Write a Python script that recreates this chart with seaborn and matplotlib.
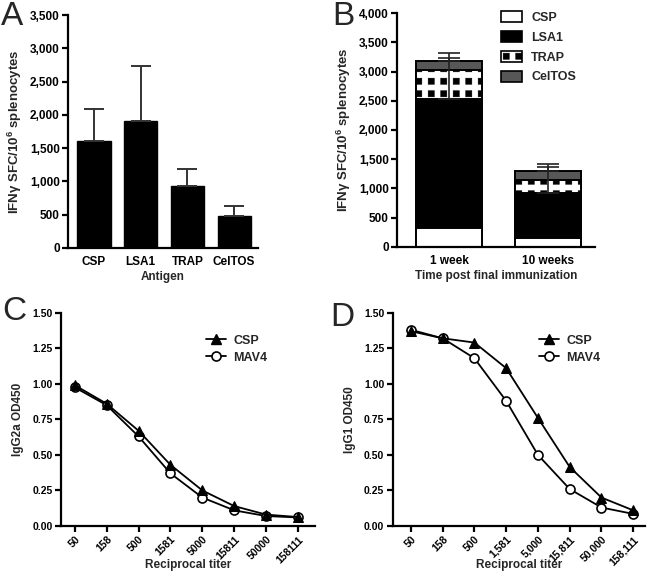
import numpy as np
import pandas as pd
import matplotlib
matplotlib.use("Agg")
import matplotlib.pyplot as plt
import seaborn as sns
from matplotlib import hatch as mhatch
from matplotlib.path import Path
from matplotlib.patches import Patch
from matplotlib.lines import Line2D

# ---------------- data ----------------
antigens = ["CSP", "LSA1", "TRAP", "CelTOS"]
a_mean = [1610, 1910, 935, 485]
a_err = [475, 820, 245, 150]

timepoints = ["1 week", "10 weeks"]
b_csp = [326, 155]
b_lsa1 = [2205, 765]
b_trap = [498, 220]
b_celtos = [160, 160]
b_err_lsa1 = [709, 451]
b_err_celtos = [126, 117]

titers_c = ["50", "158", "500", "1581", "5000", "15811", "50000", "158111"]
titers_d = ["50", "158", "500", "1,581", "5,000", "15,811", "50,000", "158,111"]
c_csp = [0.99, 0.86, 0.67, 0.43, 0.25, 0.14, 0.08, 0.063]
c_mav4 = [0.975, 0.85, 0.63, 0.37, 0.20, 0.11, 0.07, 0.06]
d_csp = [1.37, 1.32, 1.29, 1.11, 0.76, 0.415, 0.20, 0.11]
d_mav4 = [1.38, 1.32, 1.18, 0.88, 0.50, 0.26, 0.13, 0.085]


# ---------------- square-dot hatch (GraphPad style) ----------------
class SquareDots(mhatch.HatchPatternBase):
    size = 0.5

    def __init__(self, hatch, density):
        self.num_rows = int(round(hatch.count(".") * density * 4 / 3))
        self.num_vertices = self.num_rows ** 2 * 5

    def set_vertices_and_codes(self, vertices, codes):
        n = self.num_rows
        s = self.size / n / 2
        sq = np.array([[-s, -s], [s, -s], [s, s], [-s, s], [-s, -s]])
        sc = [Path.MOVETO, Path.LINETO, Path.LINETO, Path.LINETO, Path.CLOSEPOLY]
        k = 0
        for i in range(n):
            for j in range(n):
                c = np.array([(i + 0.5) / n, (j + 0.5) / n])
                vertices[k:k + 5] = sq + c
                codes[k:k + 5] = sc
                k += 5


mhatch._hatch_types = [SquareDots if t is mhatch.SmallFilledCircles else t
                       for t in mhatch._hatch_types]

# ---------------- style ----------------
sns.set_theme(style="ticks")
plt.rcParams["font.family"] = ["Liberation Sans", "DejaVu Sans"]
plt.rcParams["font.weight"] = "bold"
plt.rcParams["mathtext.fontset"] = "custom"
plt.rcParams["mathtext.rm"] = "Liberation Sans:bold"
plt.rcParams["mathtext.bf"] = "Liberation Sans:bold"
plt.rcParams["mathtext.it"] = "Liberation Sans:bold"
plt.rcParams["hatch.linewidth"] = 0.3
plt.rcParams["hatch.color"] = "black"
plt.rcParams["axes.linewidth"] = 1.6
plt.rcParams["xtick.major.width"] = 1.6
plt.rcParams["ytick.major.width"] = 1.6
plt.rcParams["xtick.major.size"] = 4
plt.rcParams["ytick.major.size"] = 4
plt.rcParams["xtick.color"] = "black"
plt.rcParams["ytick.color"] = "black"
plt.rcParams["axes.edgecolor"] = "black"

W, H = 650, 578
fig = plt.figure(figsize=(W / 100, H / 100), dpi=100)


def px_axes(left, right, top, bottom):
    return fig.add_axes([left / W, 1 - bottom / H, (right - left) / W, (bottom - top) / H])


def thousands(v, pos=None):
    return f"{int(v):,}"


ylab_ifn = r"IFN$\gamma$ SFC/10$^{6}$ splenocytes"

# ---------------- Panel A ----------------
axA = px_axes(68, 258, 15, 248)
sns.barplot(x=antigens, y=a_mean, color="black", saturation=1, width=0.71,
            edgecolor="black", linewidth=1, ax=axA)
xa = np.arange(len(antigens))
axA.errorbar(xa, a_mean, yerr=[np.zeros(len(a_err)), a_err], fmt="none",
             ecolor="#333333", elinewidth=1.4, capsize=7, capthick=1.4, zorder=1)
axA.set_ylim(0, 3500)
axA.set_yticks(np.arange(0, 3501, 500))
axA.yaxis.set_major_formatter(matplotlib.ticker.FuncFormatter(thousands))
axA.set_xlim(-0.557, 3.51)
axA.tick_params(axis="x", length=0, labelsize=8.5, pad=6)
axA.tick_params(axis="y", labelsize=8.5, pad=2)
axA.set_xlabel("Antigen", fontsize=8.5, fontweight="bold", labelpad=2)
axA.set_ylabel(ylab_ifn, fontsize=9.5, fontweight="bold", labelpad=4)
sns.despine(ax=axA)

# ---------------- Panel B ----------------
axB = px_axes(397, 595, 13.3, 246.7)
segs = [b_csp, b_lsa1, b_trap, b_celtos]
cum = np.cumsum(np.array(segs, dtype=float), axis=0)
names = ["CSP", "LSA1", "TRAP", "CelTOS"]
colors = ["white", "black", "white", "#575757"]
hatched = [False, False, True, False]
for k in reversed(range(4)):
    kw = {"hatch": "."} if hatched[k] else {}
    sns.barplot(x=timepoints, y=cum[k], color=colors[k], saturation=1, width=0.67,
                edgecolor="black", linewidth=1.4, ax=axB, **kw)
xb = np.arange(len(timepoints))
for top, err in [(cum[1], b_err_lsa1), (cum[3], b_err_celtos)]:
    axB.errorbar(xb, top, yerr=[np.zeros(2), err], fmt="none", ecolor="#222222",
                 elinewidth=1.2, capsize=8, capthick=1.2, zorder=5)
axB.set_ylim(0, 4000)
axB.set_yticks(np.arange(0, 4001, 500))
axB.yaxis.set_major_formatter(matplotlib.ticker.FuncFormatter(thousands))
axB.set_xlim(-0.525, 1.475)
axB.tick_params(axis="x", length=0, labelsize=8.5, pad=6)
axB.tick_params(axis="y", labelsize=8.5, pad=2)
axB.set_xlabel("Time post final immunization", fontsize=8.5, fontweight="bold", labelpad=2)
axB.set_ylabel(ylab_ifn, fontsize=9.5, fontweight="bold", labelpad=4)
sns.despine(ax=axB)
handlesB = []
for k in range(4):
    handlesB.append(Patch(facecolor=colors[k], edgecolor="black", linewidth=1.2,
                          hatch="." if hatched[k] else None, label=names[k]))
axB.legend(handles=handlesB, loc="upper left", bbox_to_anchor=(0.5, 1.03), frameon=False,
           fontsize=9, handlelength=1.7, handleheight=1.0, labelspacing=0.55,
           handletextpad=0.7, borderaxespad=0)


# ---------------- Panels C & D ----------------
def titer_panel(ax, labels, csp, mav4, ylabel, xlim, legend_anchor):
    x = np.arange(len(labels))
    df = pd.DataFrame({"pos": x, "CSP": csp, "MAV4": mav4})
    sns.lineplot(data=df, x="pos", y="MAV4", ax=ax, color="black", linewidth=1.3,
                 marker="o", markersize=6.5, markerfacecolor="white",
                 markeredgecolor="black", markeredgewidth=1.2, zorder=3)
    sns.lineplot(data=df, x="pos", y="CSP", ax=ax, color="black", linewidth=1.3,
                 marker="^", markersize=6.5, markerfacecolor="black",
                 markeredgecolor="black", zorder=4)
    ax.set_xticks(x)
    ax.set_xticklabels(labels, rotation=45, ha="right", rotation_mode="anchor")
    ax.set_xlim(*xlim)
    ax.set_ylim(0, 1.5)
    ax.set_yticks(np.arange(0, 1.51, 0.25))
    ax.yaxis.set_major_formatter(matplotlib.ticker.FormatStrFormatter("%.2f"))
    ax.tick_params(axis="both", labelsize=7.5, pad=2)
    ax.set_xlabel("Reciprocal titer", fontsize=8.5, fontweight="bold")
    ax.xaxis.set_label_coords(0.5, -0.155)
    ax.set_ylabel(ylabel, fontsize=8.5, fontweight="bold", labelpad=6)
    sns.despine(ax=ax)
    h = [Line2D([], [], color="black", lw=1.3, marker="^", markersize=6.5,
                markerfacecolor="black", label="CSP"),
         Line2D([], [], color="black", lw=1.3, marker="o", markersize=6.5,
                markerfacecolor="white", markeredgewidth=1.2, label="MAV4")]
    ax.legend(handles=h, loc="upper left", bbox_to_anchor=legend_anchor, frameon=False,
              fontsize=9, handlelength=1.6, handletextpad=0.6, labelspacing=0.4,
              borderaxespad=0)


axC = px_axes(61, 315, 312.7, 526)
titer_panel(axC, titers_c, c_csp, c_mav4, "IgG2a OD450", (-0.43, 7.53), (0.55, 0.92))
axD = px_axes(392.7, 645, 312.7, 526)
titer_panel(axD, titers_d, d_csp, d_mav4, "IgG1 OD450", (-0.57, 7.37), (0.56, 0.92))

# ---------------- panel letters ----------------
for lab, (x, y) in {"A": (1, 1), "B": (332, 1), "C": (2, 296), "D": (330, 302)}.items():
    fig.text(x / W, 1 - y / H, lab, fontsize=24, fontweight="normal", va="top", ha="left")

fig.savefig("out.png", dpi=100)
